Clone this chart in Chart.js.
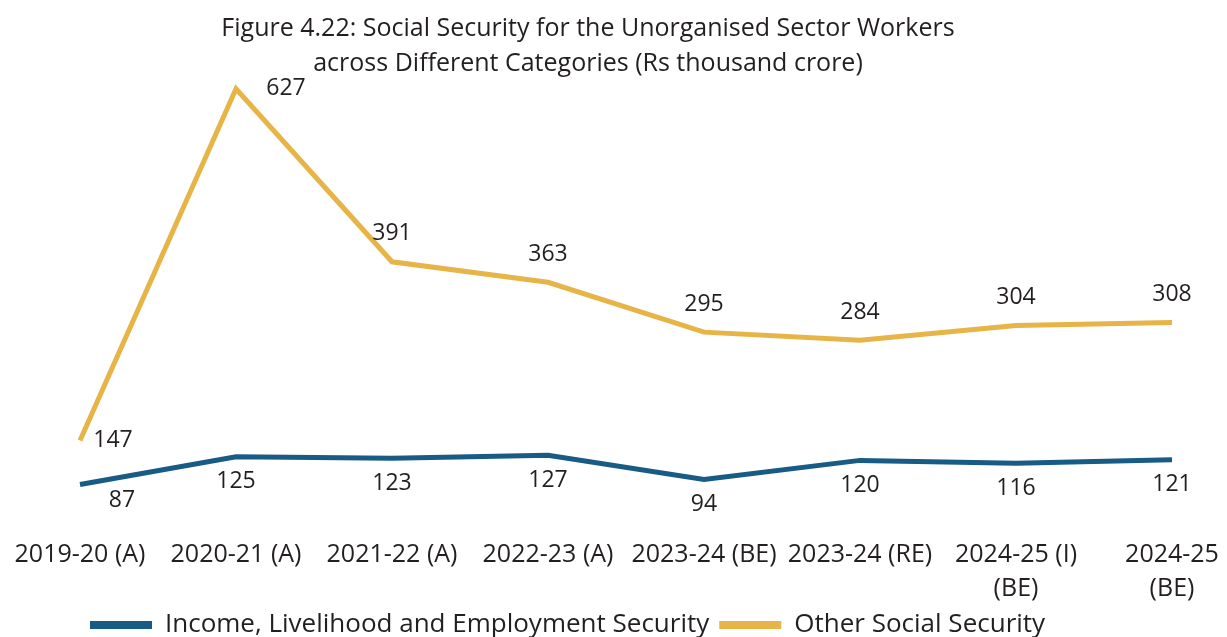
<!DOCTYPE html>
<html>
<head>
<meta charset="utf-8">
<title>Social Security for the Unorganised Sector Workers</title>
<script src="https://cdn.jsdelivr.net/npm/chart.js@4"></script>
<style>
  html, body { margin: 0; padding: 0; background: #fff; }
  #chart { display: block; }
</style>
</head>
<body>
<canvas id="chart" width="1227" height="637"></canvas>
<script>
// Rs thousand crore, by budget year
const years = [
  "2019-20 (A)", "2020-21 (A)", "2021-22 (A)", "2022-23 (A)",
  "2023-24 (BE)", "2023-24 (RE)", ["2024-25 (I)", "(BE)"], ["2024-25", "(BE)"]
];
const incomeSecurity = [87, 125, 123, 127, 94, 120, 116, 121];
const otherSecurity = [147, 627, 391, 363, 295, 284, 304, 308];

const BLUE = "#185b84";
const GOLD = "#e7b447";
const INK = "#231f20";
const FONT = "'Open Sans', 'Noto Sans', sans-serif";

// value labels: gold above the line (first two off to the right), blue below
function labelOffset(dsIndex, i) {
  if (dsIndex === 1) {
    if (i === 0) return { dx: 33, dy: 0 };
    if (i === 1) return { dx: 50, dy: 0 };
    return { dx: 0, dy: -28 };
  }
  if (i === 0) return { dx: 42, dy: 16 };
  return { dx: 0, dy: 25 };
}

const valueLabels = {
  id: "valueLabels",
  afterDatasetsDraw(chart) {
    const ctx = chart.ctx;
    ctx.save();
    ctx.font = "23px " + FONT;
    ctx.fillStyle = INK;
    ctx.textAlign = "center";
    ctx.textBaseline = "middle";
    chart.data.datasets.forEach((ds, d) => {
      chart.getDatasetMeta(d).data.forEach((pt, i) => {
        const o = labelOffset(d, i);
        ctx.fillText(String(ds.data[i]), pt.x + o.dx, pt.y + o.dy);
      });
    });
    ctx.restore();
  }
};

new Chart(document.getElementById("chart"), {
  type: "line",
  data: {
    labels: years,
    datasets: [
      {
        label: "Income, Livelihood and Employment Security",
        data: incomeSecurity,
        borderColor: BLUE,
        backgroundColor: BLUE,
        borderWidth: 5,
        pointRadius: 0,
        tension: 0
      },
      {
        label: "Other Social Security",
        data: otherSecurity,
        borderColor: GOLD,
        backgroundColor: GOLD,
        borderWidth: 5,
        pointRadius: 0,
        tension: 0
      }
    ]
  },
  options: {
    responsive: false,
    animation: false,
    devicePixelRatio: 1,
    layout: { padding: { left: 4, right: 55, top: 0, bottom: -11 } },
    plugins: {
      title: {
        display: true,
        text: [
          "Figure 4.22: Social Security for the Unorganised Sector Workers",
          "across Different Categories (Rs thousand crore)"
        ],
        color: INK,
        font: { family: FONT, size: 25, weight: "normal", lineHeight: 1.4 },
        padding: { top: 11.5, bottom: 0 }
      },
      legend: {
        position: "bottom",
        align: "start",
        fullSize: false,
        labels: {
          color: INK,
          font: { family: FONT, size: 26 },
          boxWidth: 62,
          boxHeight: 8,
          padding: 10,
          useBorderRadius: true,
          borderRadius: 4,
          generateLabels(chart) {
            return chart.data.datasets.map((ds, i) => ({
              text: ds.label,
              fillStyle: ds.borderColor,
              strokeStyle: ds.borderColor,
              lineWidth: 0,
              fontColor: INK,
              datasetIndex: i
            }));
          }
        }
      },
      tooltip: { enabled: false }
    },
    scales: {
      x: {
        offset: false,
        grid: { display: false, drawTicks: false },
        border: { display: false },
        ticks: {
          color: INK,
          font: { family: FONT, size: 25, lineHeight: 1.36 },
          padding: 8,
          maxRotation: 0,
          autoSkip: false
        },
        // two-line labels need the full band down to the legend
        afterFit(scale) { scale.height = 72; }
      },
      y: {
        min: 25,
        max: 637,
        grid: { display: false },
        border: { display: false },
        ticks: { display: false },
        afterFit(scale) { scale.width = 76; }
      }
    }
  },
  plugins: [valueLabels]
});
</script>
</body>
</html>
